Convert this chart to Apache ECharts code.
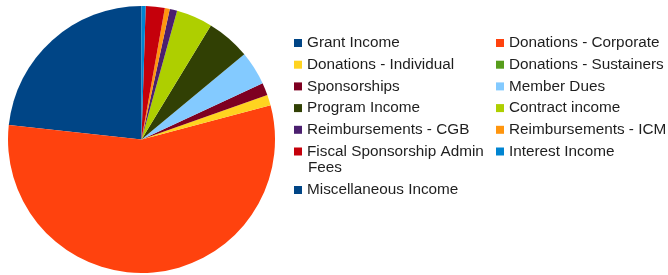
<!DOCTYPE html>
<html>
<head>
<meta charset="utf-8">
<script src="https://cdn.jsdelivr.net/npm/echarts@6/dist/echarts.min.js"></script>
<style>
  html, body { margin: 0; padding: 0; background: #ffffff; }
  #chart { width: 668px; height: 275px; }
</style>
</head>
<body>
<div id="chart"></div>
<script>
// categories, in legend order (pie runs counter-clockwise from 12 o'clock)
var categories = [
    'Grant Income', 'Donations - Corporate', 'Donations - Individual', 'Donations - Sustainers',
    'Sponsorships', 'Member Dues', 'Program Income', 'Contract income',
    'Reimbursements - CGB', 'Reimbursements - ICM', 'Fiscal Sponsorship Admin Fees',
    'Interest Income', 'Miscellaneous Income'
];
// share of income, %
var shares = [23.3, 55.9, 1.3, 0, 1.5, 4.1, 5.3, 4.4, 0.9, 0.6, 2.3, 0.5, 0];
var colors = [
    '#004586', '#ff420e', '#ffd320', '#579d1c', '#7e0021', '#83caff', '#314004',
    '#aecf00', '#4b1f6f', '#ff950e', '#c5000b', '#0084d1', '#004586'
];
// legend columns
var leftCol = ['Grant Income', 'Donations - Individual', 'Sponsorships', 'Program Income',
    'Reimbursements - CGB', 'Fiscal Sponsorship Admin Fees'];
var rightCol = ['Donations - Corporate', 'Donations - Sustainers', 'Member Dues',
    'Contract income', 'Reimbursements - ICM', 'Interest Income'];
var lastCol = ['Miscellaneous Income'];

var chart = echarts.init(document.getElementById('chart'));

var pieData = [];
for (var i = 0; i < categories.length; i++) {
    pieData.push({ name: categories[i], value: shares[i], itemStyle: { color: colors[i] } });
}

var legendText = {
    fontFamily: 'Liberation Sans',
    fontSize: 15.3,
    lineHeight: 18,
    color: '#1e1e1e'
};
function makeLegend(names, left, top) {
    return {
        data: names,
        orient: 'vertical',
        left: left,
        top: top,
        padding: 0,
        itemWidth: 8,
        itemHeight: 8,
        itemGap: 3.7,
        icon: 'rect',
        selectedMode: false,
        textStyle: legendText,
        formatter: function (name) {
            return name === 'Fiscal Sponsorship Admin Fees' ? 'Fiscal Sponsorship Admin' : name;
        }
    };
}

var option = {
    backgroundColor: '#ffffff',
    animation: false,
    legend: [
        makeLegend(leftCol, 294, 34),
        makeLegend(rightCol, 496, 34),
        makeLegend(lastCol, 294, 181)
    ],
    graphic: [{
        type: 'text',
        left: 308,
        top: 160.5,
        style: { text: 'Fees', font: '15.3px "Liberation Sans"', fill: '#1e1e1e' }
    }],
    series: [{
        type: 'pie',
        center: [141.5, 139.5],
        radius: [0, 133.5],
        startAngle: 90,
        clockwise: false,
        label: { show: false },
        labelLine: { show: false },
        itemStyle: { borderWidth: 0 },
        emphasis: { disabled: true },
        data: pieData
    }]
};
chart.setOption(option);
</script>
</body>
</html>
